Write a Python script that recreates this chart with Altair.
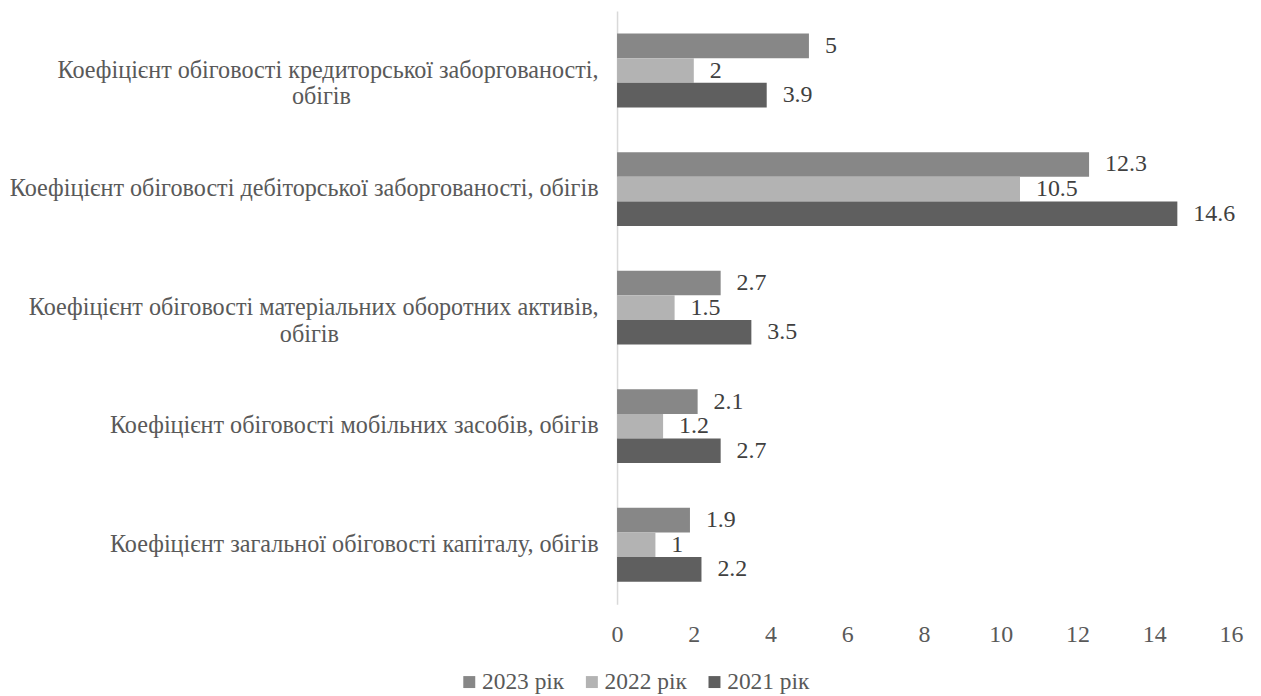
import altair as alt
import pandas as pd

NB = "\u00a0"
categories = [
    "Коефіцієнт обіговості кредиторської заборгованості,\n" + "обігів" + NB * 41 + "\u200b",
    "Коефіцієнт обіговості дебіторської заборгованості, обігів",
    "Коефіцієнт обіговості матеріальних оборотних активів,\n" + "обігів" + NB * 43 + "\u200b",
    "Коефіцієнт обіговості мобільних засобів, обігів",
    "Коефіцієнт загальної обіговості капіталу, обігів",
]
series = ["2023 рік", "2022 рік", "2021 рік"]
v2023 = [5, 12.3, 2.7, 2.1, 1.9]
v2022 = [2, 10.5, 1.5, 1.2, 1]
v2021 = [3.9, 14.6, 3.5, 2.7, 2.2]
colors = ["#878787", "#b3b3b3", "#5f5f5f"]

rows = []
for i, c in enumerate(categories):
    for s, vals in zip(series, [v2023, v2022, v2021]):
        v = vals[i]
        rows.append({"cat": c, "series": s, "value": v, "label": f"{v:g}"})
df = pd.DataFrame(rows)

FONT = "Liberation Serif"
TXT = "#595959"
FS = 24

base = alt.Chart(df).encode(
    y=alt.Y("cat:N", sort=categories, title=None,
            scale=alt.Scale(paddingInner=0.377, paddingOuter=0.19),
            axis=alt.Axis(labelExpr="split(datum.label, '\\n')", labelFont=FONT,
                          labelFontSize=24.25, labelColor=TXT, labelPadding=19,
                          ticks=False, domainColor="#d9d9d9", domainWidth=1.5,
                          labelLimit=1000, labelLineHeight=27)),
    yOffset=alt.YOffset("series:N", sort=series),
)

bars = base.mark_bar().encode(
    x=alt.X("value:Q", scale=alt.Scale(domain=[0, 16]), title=None,
            axis=alt.Axis(values=list(range(0, 17, 2)), grid=False, domain=False,
                          ticks=False, labelFont=FONT, labelFontSize=FS,
                          labelColor=TXT, labelPadding=18, labelFlush=False)),
    color=alt.Color("series:N", sort=series,
                    scale=alt.Scale(domain=series, range=colors),
                    legend=alt.Legend(orient="none", legendX=-160, legendY=661,
                                      direction="horizontal", title=None,
                                      symbolType="square",
                                      labelFont=FONT, labelFontSize=23.5, labelColor=TXT,
                                      symbolSize=144, symbolStrokeWidth=0,
                                      labelOffset=1, columnPadding=15)),
)

text = base.mark_text(align="left", dx=16, font=FONT, fontSize=FS, color="#404040").encode(
    x="value:Q", text="label:N"
)

chart = (bars + text).properties(
    width=616, height=595,
    padding={"left": 0, "top": 2, "right": 10, "bottom": 0},
).configure_view(stroke=None)

chart.save("out.html", embed_options={"renderer": "svg", "actions": False})
